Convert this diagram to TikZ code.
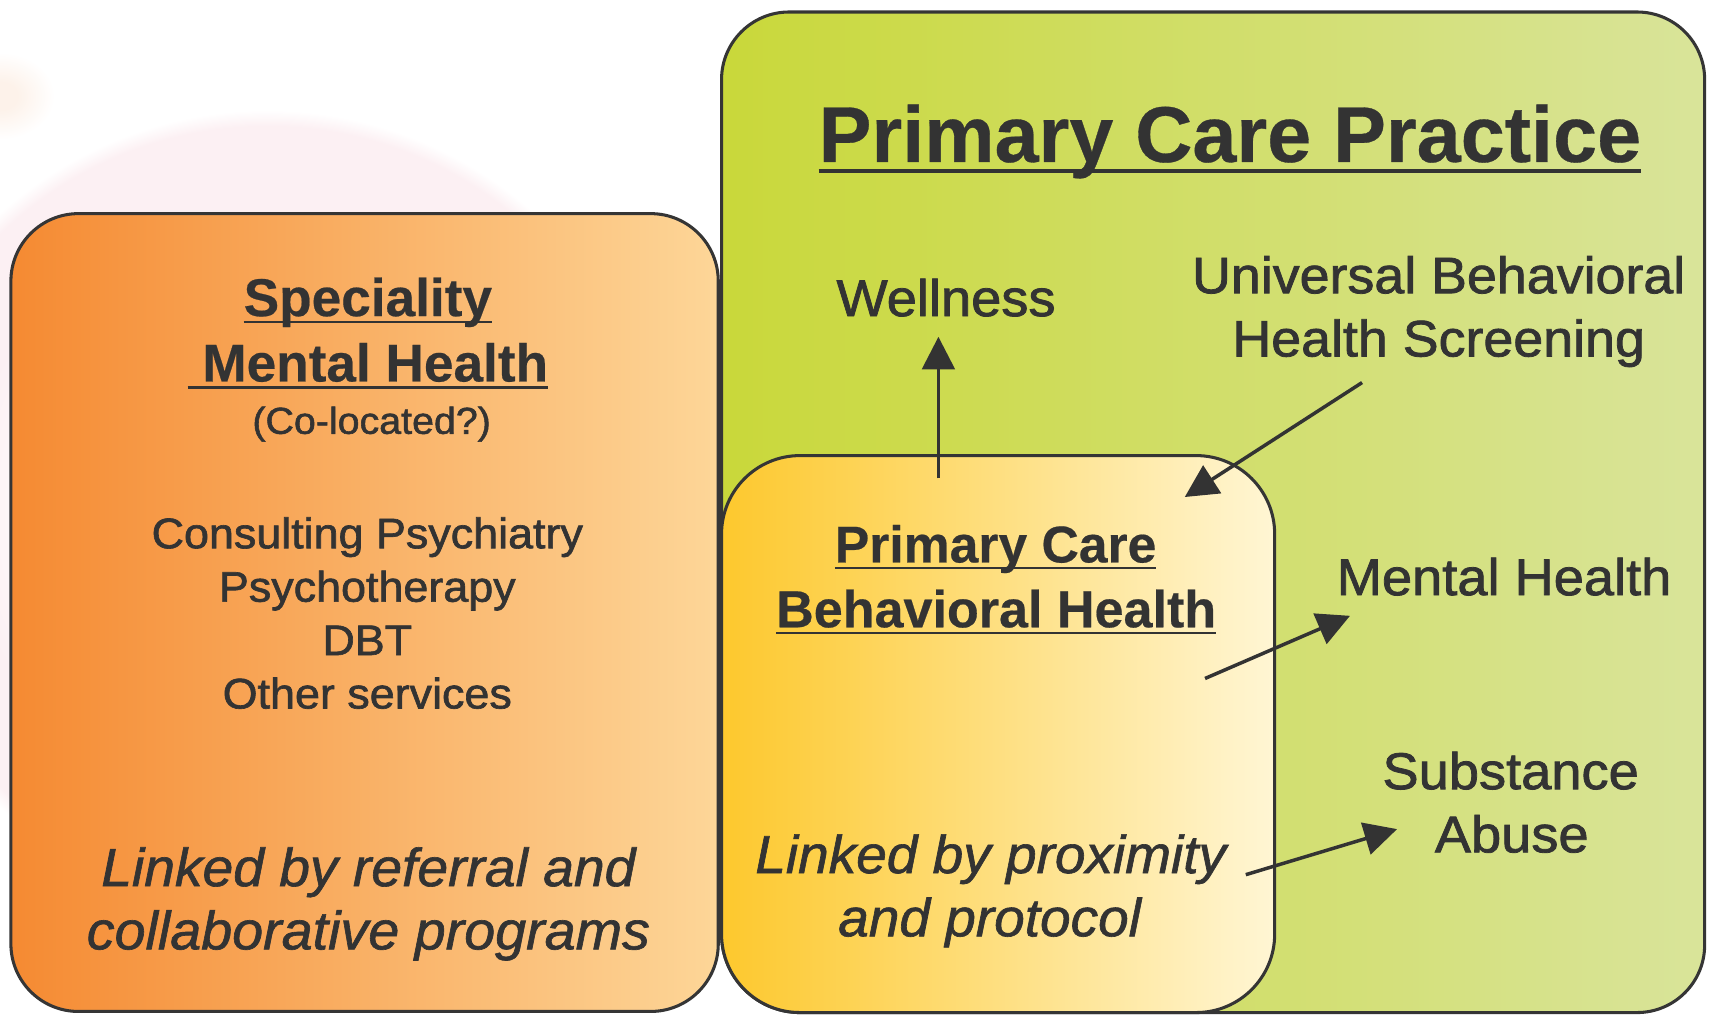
\documentclass[tikz,border=0pt]{standalone}
\usepackage{fontspec}
\setmainfont{Liberation Sans}[UprightFeatures={FakeStretch=1.05,FakeBold=1.5},BoldFeatures={FakeStretch=1.0,FakeBold=0.4},ItalicFeatures={FakeStretch=1.03,FakeBold=1.2}]
\usetikzlibrary{arrows.meta}
\definecolor{ink}{HTML}{333333}
\definecolor{edge}{HTML}{353535}
\definecolor{orL}{HTML}{F58A32}
\definecolor{orR}{HTML}{FDD698}
\definecolor{grL}{HTML}{C9D83A}
\definecolor{grR}{HTML}{D9E49A}
\definecolor{yeL}{HTML}{FDC82D}
\definecolor{yeR}{HTML}{FFF6D4}
\definecolor{halo}{RGB}{252,240,243}
\definecolor{peach}{RGB}{253,242,234}
\pgfdeclareradialshading{haloshade}{\pgfpoint{0bp}{0bp}}{color(0bp)=(white); color(12bp)=(white); color(19bp)=(halo); color(24bp)=(halo); color(25bp)=(white); color(50bp)=(white)}
\pgfdeclareradialshading{peachshade}{\pgfpoint{0bp}{0bp}}{color(0bp)=(peach); color(8bp)=(peach); color(25bp)=(white); color(50bp)=(white)}
\newcommand\fs[1]{\fontsize{#1}{#1}\selectfont}
\newcommand\ulx[1]{\setbox0=\hbox{#1}\rlap{\rule[-0.135em]{\wd0}{0.045em}}\box0}
\tikzset{
  lbl/.style={text=ink, inner sep=0pt, anchor=base},
  boxline/.style={draw=edge, line width=1.4pt},
  arr/.style={draw=ink, line width=1.6pt, -{Triangle[length=15pt,width=15pt]}},
}
\begin{document}
\begin{tikzpicture}[x=0.5pt,y=-0.5pt]
\useasboundingbox (0,0) rectangle (1568,932);
\fill[white] (0,0) rectangle (1568,932);
% faint background decoration
\shade[shading=haloshade] (245,468) circle (367);
\shade[shading=peachshade] (0,88) ellipse (50 and 40);
% boxes
\draw[boxline, left color=orL, right color=orR, rounded corners=31pt] (10,196) rectangle (659,928);
\draw[boxline, left color=grL, right color=grR]
  (724,11) -- (1502,11) arc[start angle=-90, end angle=0, radius=62]
  -- (1564,867) arc[start angle=0, end angle=90, radius=62]
  -- (734,929) arc[start angle=90, end angle=180, radius=72]
  -- (662,73) arc[start angle=180, end angle=270, radius=62] -- cycle;
\draw[boxline, left color=yeL, right color=yeR, rounded corners=36pt] (662,418) rectangle (1169.5,929);
% left box texts
\node[lbl, font=\bfseries\fs{24.4pt}] (spec1) at (337.5,290) {\ulx{Speciality}};
\node[lbl, font=\bfseries\fs{24.4pt}] (spec2) at (337.5,350) {\ulx{\ Mental Health}};
\node[lbl, font=\fs{17.2pt}] (coloc) at (341,398) {(Co-located?)};
\node[lbl, font=\fs{19.6pt}] (svc1) at (337,503) {Consulting Psychiatry};
\node[lbl, font=\fs{19.6pt}] (svc2) at (337,552) {Psychotherapy};
\node[lbl, font=\fs{19.6pt}] (svc3) at (337,601) {DBT};
\node[lbl, font=\fs{19.6pt}] (svc4) at (337,650) {Other services};
\node[lbl, font=\itshape\fs{24.6pt}] (ref1) at (338,813) {Linked by referral and};
\node[lbl, font=\itshape\fs{24.8pt}] (ref2) at (338,871) {collaborative programs};
% green box texts
\node[lbl, font=\bfseries\fs{36.3pt}] (title) at (1128.5,148.6) {\ulx{Primary Care Practice}};
\node[lbl, font=\fs{23.7pt}] (well) at (868,290) {Wellness};
\node[lbl, font=\fs{23.5pt}] (scr1) at (1320,269) {Universal Behavioral};
\node[lbl, font=\fs{23.5pt}] (scr2) at (1320,327) {Health Screening};
\node[lbl, font=\fs{23.7pt}] (mh) at (1380,546) {Mental Health};
\node[lbl, font=\fs{23.7pt}] (sub1) at (1386,724) {Substance};
\node[lbl, font=\fs{23.7pt}] (sub2) at (1387,782) {Abuse};
% yellow box texts
\node[lbl, font=\bfseries\fs{23.7pt}] (pc1) at (913.5,516) {\ulx{Primary Care}};
\node[lbl, font=\bfseries\fs{23.9pt}] (pc2) at (914,575.5) {\ulx{Behavioral Health}};
\node[lbl, font=\itshape\fs{24.5pt}] (prox1) at (909,801) {Linked by proximity};
\node[lbl, font=\itshape\fs{24.5pt}] (prox2) at (908,859) {and protocol};
% arrows
\coordinate (wS) at (861,439); \coordinate (wT) at (861,309);
\coordinate (sS) at (1249.7,351); \coordinate (sT) at (1087,456);
\coordinate (mS) at (1105.6,622.5); \coordinate (mT) at (1238.6,565);
\coordinate (uS) at (1143,802.5); \coordinate (uT) at (1281.8,760.7);
\draw[arr] (wS) -- (wT);
\draw[arr] (sS) -- (sT);
\draw[arr] (mS) -- (mT);
\draw[arr] (uS) -- (uT);
\end{tikzpicture}
\end{document}
